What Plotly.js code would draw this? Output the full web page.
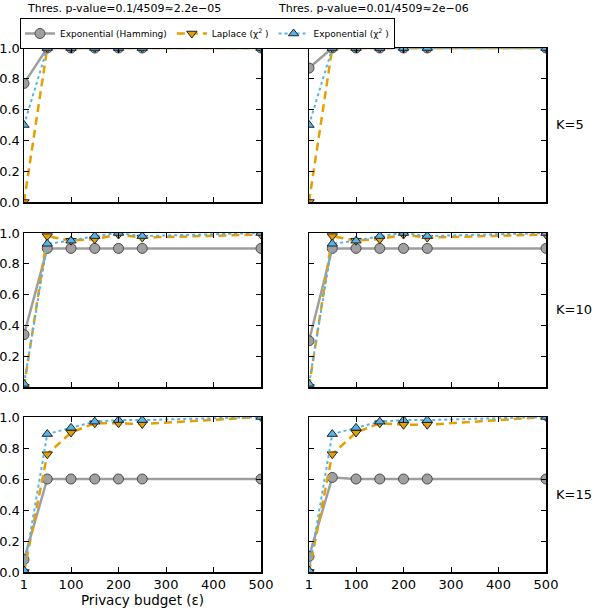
<!DOCTYPE html>
<html>
<head>
<meta charset="utf-8">
<script src="https://cdn.plot.ly/plotly-3.0.1.min.js"></script>
<style>html,body{margin:0;padding:0;background:#fff;}#chart{width:600px;height:608px;}</style>
</head>
<body>
<div id="chart"></div>
<script>
// ---- data ----
const eps = [1, 50, 100, 150, 200, 250, 500];
const xTickVals = [1, 100, 200, 300, 400, 500];
const yTickVals = [0, 0.2, 0.4, 0.6, 0.8, 1.0];
const yTickText = ['0.0', '0.2', '0.4', '0.6', '0.8', '1.0'];
const seriesNames = ['Exponential (Hamming)', 'Laplace (χ<sup>2</sup> )', 'Exponential (χ<sup>2</sup> )'];
const thresTitles = ['Thres. p-value=0.1/4509≈2.2e−05', 'Thres. p-value=0.01/4509≈2e−06'];
const kLabels = ['K=5', 'K=10', 'K=15'];
const xAxisTitle = 'Privacy budget (ε)';

// K=5
const hamK5a = [0.77, 1, 1, 1, 1, 1, 1];
const lapK5a = [0.0, 1, 1, 1, 1, 1, 1];
const expK5a = [0.5, 1, 1, 1, 1, 1, 1];
const hamK5b = [0.87, 1, 1, 1, 1, 1, 1];
const lapK5b = [0.0, 1, 1, 1, 1, 1, 1];
const expK5b = [0.5, 1, 1, 1, 1, 1, 1];
// K=10
const hamK10a = [0.34, 0.9, 0.9, 0.9, 0.9, 0.9, 0.9];
const lapK10a = [0.0, 0.98, 0.95, 0.96, 0.99, 0.97, 0.99];
const expK10a = [0.02, 0.93, 0.95, 0.98, 1.0, 0.98, 1.0];
const hamK10b = [0.3, 0.9, 0.9, 0.9, 0.9, 0.9, 0.9];
const lapK10b = [0.0, 0.98, 0.95, 0.96, 0.99, 0.97, 0.99];
const expK10b = [0.02, 0.93, 0.95, 0.98, 1.0, 0.98, 1.0];
// K=15
const hamK15a = [0.08, 0.6, 0.6, 0.6, 0.6, 0.6, 0.6];
const lapK15a = [0.0, 0.76, 0.9, 0.96, 0.96, 0.955, 1.0];
const expK15a = [0.01, 0.89, 0.93, 0.97, 0.98, 0.98, 1.0];
const hamK15b = [0.1, 0.61, 0.6, 0.6, 0.6, 0.6, 0.6];
const lapK15b = [0.0, 0.76, 0.9, 0.96, 0.95, 0.95, 1.0];
const expK15b = [0.01, 0.89, 0.93, 0.97, 0.98, 0.98, 1.0];

const panels = [
  [hamK5a, lapK5a, expK5a], [hamK5b, lapK5b, expK5b],
  [hamK10a, lapK10a, expK10a], [hamK10b, lapK10b, expK10b],
  [hamK15a, lapK15a, expK15a], [hamK15b, lapK15b, expK15b]
];

// ---- styles ----
const W = 600, H = 608;
const colX = [[24, 261], [309, 546]];
const rowY = [[48, 202], [233, 387], [417, 572]];
const titleCenters = [124, 373];
const styles = [
  {line: {color: '#9e9e9e', width: 2.5, dash: 'solid'},
   marker: {symbol: 'circle', size: 10, color: '#a0a0a0', line: {color: '#4a4a4a', width: 1}}},
  {line: {color: '#E69F00', width: 2.5, dash: '8px,5px'},
   marker: {symbol: 'triangle-down', size: 9, color: '#E69F00', line: {color: '#222', width: 1}}},
  {line: {color: '#56B4E9', width: 2, dash: 'dot'},
   marker: {symbol: 'triangle-up', size: 9, color: '#56B4E9', line: {color: '#222', width: 1}}}
];

const font = 'DejaVu Sans, Verdana, sans-serif';
const data = [];
const layout = {
  width: W, height: H,
  margin: {l: 0, r: 0, t: 0, b: 0},
  paper_bgcolor: '#fff', plot_bgcolor: '#fff',
  font: {family: font, size: 12, color: '#000'},
  showlegend: true,
  legend: {
    orientation: 'h', x: 20 / W, y: 1 - 18 / H, xanchor: 'left', yanchor: 'top',
    bordercolor: '#000', borderwidth: 1, bgcolor: '#fff',
    font: {family: font, size: 9}, itemwidth: 30, tracegroupgap: 0
  },
  annotations: []
};

panels.forEach((series, i) => {
  const r = Math.floor(i / 2), c = i % 2;
  const n = i + 1;
  const xa = n === 1 ? 'x' : 'x' + n;
  const ya = n === 1 ? 'y' : 'y' + n;
  series.forEach((vals, s) => {
    data.push({
      x: eps, y: vals, xaxis: xa, yaxis: ya, type: 'scatter', mode: 'lines+markers',
      name: seriesNames[s], showlegend: i === 0, legendgroup: 's' + s,
      line: styles[s].line, marker: styles[s].marker, cliponaxis: true
    });
  });
  const xKey = n === 1 ? 'xaxis' : 'xaxis' + n;
  const yKey = n === 1 ? 'yaxis' : 'yaxis' + n;
  const xAxis = {
    domain: [colX[c][0] / W, colX[c][1] / W], anchor: ya,
    range: [1, 500], tickvals: xTickVals, ticktext: xTickVals.map(String),
    showticklabels: r === 2, ticks: 'inside', ticklen: 5, tickwidth: 1, tickcolor: '#000',
    showline: true, linecolor: '#000', linewidth: 1.5, mirror: 'ticks',
    showgrid: false, zeroline: false, tickfont: {size: 13, family: font}
  };
  if (r === 2 && c === 0) {
    xAxis.title = {text: xAxisTitle, font: {size: 13.5, family: font}, standoff: 2};
  }
  layout[xKey] = xAxis;
  layout[yKey] = {
    domain: [1 - rowY[r][1] / H, 1 - rowY[r][0] / H], anchor: xa,
    range: [0, 1], tickvals: yTickVals, ticktext: yTickText,
    showticklabels: c === 0, ticks: 'inside', ticklen: 5, tickwidth: 1, tickcolor: '#000',
    showline: true, linecolor: '#000', linewidth: 1.5, mirror: 'ticks',
    showgrid: false, zeroline: false, tickfont: {size: 13, family: font}
  };
});

thresTitles.forEach((t, c) => {
  layout.annotations.push({
    text: t, xref: 'paper', yref: 'paper',
    x: titleCenters[c] / W, y: 1 - 8 / H, xanchor: 'center', yanchor: 'middle',
    showarrow: false, font: {size: 11, family: font}
  });
});
kLabels.forEach((k, r) => {
  layout.annotations.push({
    text: k, xref: 'paper', yref: 'paper',
    x: 554 / W, y: 1 - (rowY[r][0] + rowY[r][1]) / 2 / H, xanchor: 'left', yanchor: 'middle',
    showarrow: false, font: {size: 13, family: font}
  });
});

Plotly.newPlot('chart', data, layout, {staticPlot: true, displayModeBar: false});
</script>
</body>
</html>
